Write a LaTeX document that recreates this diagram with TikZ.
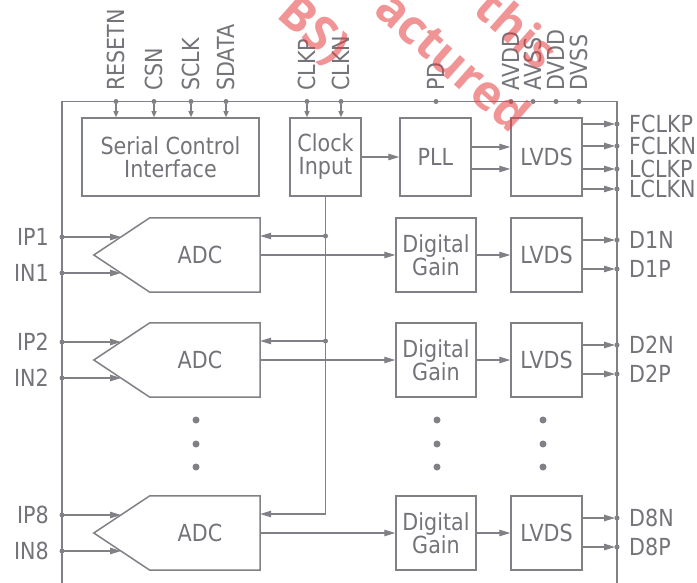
\documentclass[tikz,border=0pt]{standalone}
\usepackage{fontspec}
\setmainfont{DejaVu Sans}[FakeStretch=0.88]
\newfontfamily\wmfont{Open Sans}
\usetikzlibrary{arrows.meta,calc}

\definecolor{linegray}{RGB}{128,128,134}
\definecolor{textgray}{RGB}{115,115,121}
\definecolor{wmred}{RGB}{228,60,64}

\tikzset{
  txt/.style={text=textgray, inner sep=0pt, font=\fontsize{23.5}{23}\selectfont},
  blk/.style={txt, draw=linegray, line width=1.5pt, align=center},
  frame/.style={draw=linegray, line width=1.5pt},
  wire/.style={draw=linegray, line width=1.2pt},
  sig/.style={wire, -{Triangle[length=11pt,width=6.5pt]}},
  pinarr/.style={wire, -{Triangle[length=6pt,width=5pt]}},
  pindot/.style={circle, fill=linegray, inner sep=0pt, minimum size=5pt},
  moredot/.style={circle, fill=linegray, inner sep=0pt, minimum size=7pt},
  wm/.style={text=wmred, opacity=0.55, inner sep=0pt, rotate=-41.5,
    font=\wmfont\bfseries\fontsize{48}{48}\selectfont},
}

\begin{document}
\begin{tikzpicture}[x=1pt,y=-1pt]
\clip (0,0) rectangle (697,583);
% chip outline, open at the bottom
\draw[frame] (62,590) -- (62,101.5) -- (617,101.5) -- (617,590);

% top row
\node[blk, minimum width=177pt, minimum height=78pt] (sci) at (170.5,157) {Serial Control\\Interface};
\node[blk, minimum width=71pt, minimum height=78pt] (clk) at (325.5,157) {Clock\\Input};
\node[blk, minimum width=71pt, minimum height=78pt] (pll) at (435.5,157) {PLL};
\node[blk, minimum width=71pt, minimum height=78pt] (lv0) at (546.5,157) {LVDS};

\foreach \x/\name in {116/RESETN,154/CSN,191/SCLK,226/SDATA} {
  \node[pindot] (p\name) at (\x,101.5) {};
  \node[txt, rotate=90, anchor=west] (t\name) at (\x,91) {\name};
  \draw[pinarr] (p\name) -- (p\name |- sci.north);
}
\foreach \x/\name in {307/CLKP,341/CLKN} {
  \node[pindot] (p\name) at (\x,101.5) {};
  \node[txt, rotate=90, anchor=west] (t\name) at (\x,91) {\name};
  \draw[pinarr] (p\name) -- (p\name |- clk.north);
}
\foreach \x/\name in {436/PD,511/AVDD,533/AVSS,556/DVDD,579/DVSS} {
  \node[pindot] (p\name) at (\x,101.5) {};
  \node[txt, rotate=90, anchor=west] (t\name) at (\x,91) {\name};
}

\draw[sig] (clk) -- (pll);
\draw[sig] ($(pll.east)+(0,-10)$) -- ($(lv0.west)+(0,-10)$);
\draw[sig] ($(pll.east)+(0,12)$) -- ($(lv0.west)+(0,12)$);

\foreach \y/\name in {124/FCLKP,146/FCLKN,169/LCLKP,189/LCLKN} {
  \node[pindot] (o\name) at (617,\y) {};
  \node[txt, anchor=west] (t\name) at (629,\y) {\name};
  \draw[sig, shorten >=2pt] (o\name -| lv0.east) -- (o\name.center);
}

% channels
\foreach \row/\ty in {1/218,2/323,8/496} {
  \node[minimum width=110pt, minimum height=74pt, inner sep=0pt] (adc\row) at (205,\ty+37) {};
  \coordinate (tip\row) at ($(adc\row.west)+(-56,0)$);
  \draw[frame] (adc\row.north east) -- (adc\row.south east) -- (adc\row.south west)
    -- (tip\row) -- (adc\row.north west) -- cycle;
  \node[txt] (adct\row) at (200,\ty+37) {ADC};
  \node[blk, minimum width=80pt, minimum height=74pt] (dg\row) at (436,\ty+37) {Digital\\Gain};
  \node[blk, minimum width=71pt, minimum height=74pt] (lv\row) at (546.5,\ty+37) {LVDS};

  \node[pindot] (ip\row) at (62,\ty+19) {};
  \node[pindot] (in\row) at (62,\ty+55) {};
  \node[txt, anchor=east] (tip\row) at (49,\ty+19) {IP\row};
  \node[txt, anchor=east] (tin\row) at (49,\ty+55) {IN\row};
  \coordinate (ipe\row) at (121,\ty+19);
  \coordinate (ine\row) at (121,\ty+55);
  \draw[sig] (ip\row.center) -- (ipe\row);
  \draw[sig] (in\row.center) -- (ine\row);

  \coordinate (ck\row) at (325.5,\ty+18);
  \draw[sig] (ck\row) -- (ck\row -| adc\row.east);
  \draw[sig] (adc\row.east) -- (dg\row.west);
  \draw[sig] (dg\row) -- (lv\row);

  \node[pindot] (dn\row) at (617,\ty+22) {};
  \node[pindot] (dp\row) at (617,\ty+51) {};
  \node[txt, anchor=west] (tdn\row) at (629,\ty+22) {D\row N};
  \node[txt, anchor=west] (tdp\row) at (629,\ty+51) {D\row P};
  \draw[sig, shorten >=2pt] (dn\row -| lv\row.east) -- (dn\row.center);
  \draw[sig, shorten >=2pt] (dp\row -| lv\row.east) -- (dp\row.center);
}
\draw[wire] (clk.south) -- (ck8);
\node[pindot] (ckd1) at (ck1) {};
\node[pindot] (ckd2) at (ck2) {};

\foreach \x in {196,437,543}
  \foreach \y in {420,444,467}
    \node[moredot] at (\x,\y) {};

% watermark
\node[wm, anchor=base east] (wm1) at (540,72) {r this};
\node[wm, anchor=base west] (wm2) at (372,12) {actured};
\node[wm, anchor=base east] (wm3) at (332,66) {BS)};
\end{tikzpicture}
\end{document}
